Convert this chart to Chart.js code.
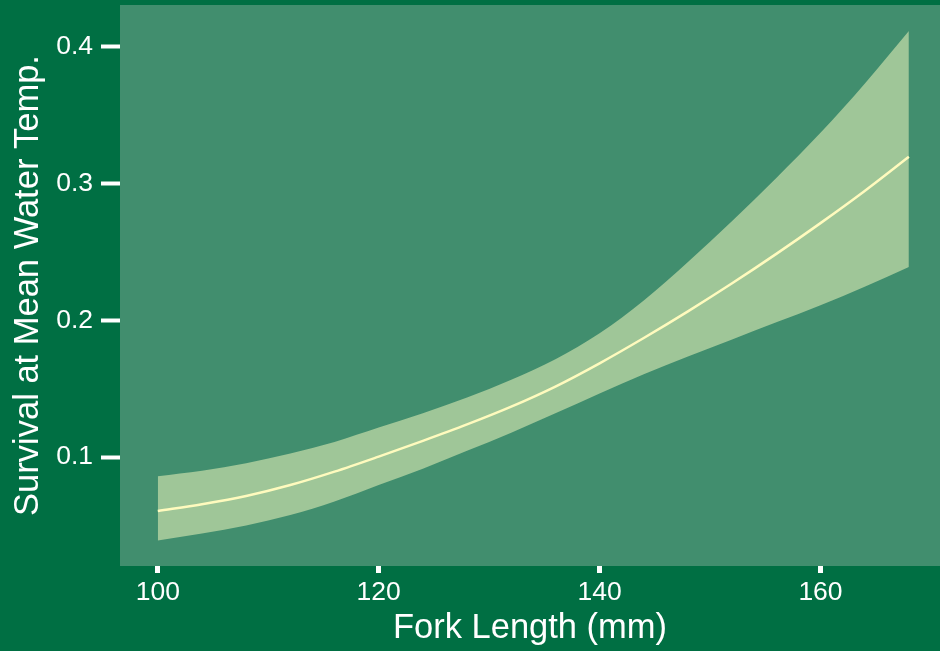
<!DOCTYPE html>
<html>
<head>
<meta charset="utf-8">
<script src="https://cdn.jsdelivr.net/npm/chart.js@4.4.1/dist/chart.umd.min.js"></script>
<style>
  html, body { margin: 0; padding: 0; background: #006f43; }
  canvas { display: block; }
</style>
</head>
<body>
<canvas id="chart" width="940" height="651"></canvas>
<script>
// Fork length (mm) at which the fitted survival curve is evaluated
const forkLength = [100, 104, 108, 112, 116, 120, 124, 128, 132, 136, 140, 144, 148, 152, 156, 160, 164, 168];
// Predicted survival at mean water temperature
const survivalFit = [0.0605, 0.0655, 0.0715, 0.0795, 0.0893, 0.1003, 0.1118, 0.1238, 0.1368, 0.1515, 0.1685, 0.1870, 0.2065, 0.2270, 0.2485, 0.2710, 0.2945, 0.3195];
// Upper and lower confidence limits
const survivalUpper = [0.0860, 0.0900, 0.0955, 0.1025, 0.1110, 0.1215, 0.1320, 0.1435, 0.1565, 0.1715, 0.1905, 0.2145, 0.2425, 0.2725, 0.3040, 0.3370, 0.3730, 0.4115];
const survivalLower = [0.0390, 0.0440, 0.0500, 0.0575, 0.0675, 0.0795, 0.0915, 0.1045, 0.1178, 0.1320, 0.1465, 0.1605, 0.1735, 0.1860, 0.1985, 0.2110, 0.2245, 0.2390];
// Axis ticks
const xTickValues = [100, 120, 140, 160];
const xTickLabels = ['100', '120', '140', '160'];
const yTickValues = [0.1, 0.2, 0.3, 0.4];
const yTickLabels = ['0.1', '0.2', '0.3', '0.4'];

const FONT = '"Liberation Sans", Arial, Helvetica, sans-serif';
const PAGE_BG = '#006f43';
const PANEL_BG = '#418e6e';
const RIBBON = '#9fc698';
const LINE = '#fffbbe';

const toPoints = ys => forkLength.map((x, i) => ({ x: x, y: ys[i] }));

// Fills the page and the plotting panel before anything else is drawn
const panelBackground = {
  id: 'panelBackground',
  beforeDraw(chart) {
    const { ctx, chartArea: a } = chart;
    ctx.save();
    ctx.fillStyle = PAGE_BG;
    ctx.fillRect(0, 0, chart.width, chart.height);
    ctx.fillStyle = PANEL_BG;
    ctx.fillRect(a.left, a.top, a.right - a.left, a.bottom - a.top);
    ctx.restore();
  }
};

// Fixed axis band sizes; label overhang is not reserved around the panel
const fixBand = (size, horizontal) => s => {
  if (horizontal) s.height = size; else s.width = size;
  s.paddingTop = 0; s.paddingBottom = 0; s.paddingLeft = 0; s.paddingRight = 0;
};

new Chart(document.getElementById('chart'), {
  type: 'line',
  data: {
    datasets: [
      {
        label: 'Survival',
        data: toPoints(survivalFit),
        borderColor: LINE,
        borderWidth: 2.5,
        pointRadius: 0,
        fill: false,
        cubicInterpolationMode: 'monotone'
      },
      {
        label: 'Upper',
        data: toPoints(survivalUpper),
        borderWidth: 0,
        borderColor: 'rgba(0,0,0,0)',
        backgroundColor: RIBBON,
        pointRadius: 0,
        fill: '+1',
        cubicInterpolationMode: 'monotone'
      },
      {
        label: 'Lower',
        data: toPoints(survivalLower),
        borderWidth: 0,
        borderColor: 'rgba(0,0,0,0)',
        pointRadius: 0,
        fill: false,
        cubicInterpolationMode: 'monotone'
      }
    ]
  },
  options: {
    responsive: false,
    animation: false,
    devicePixelRatio: 1,
    layout: { padding: { top: 5, right: 0, bottom: 0, left: 0 } },
    plugins: {
      legend: { display: false },
      tooltip: { enabled: false }
    },
    scales: {
      x: {
        type: 'linear',
        min: 96.58,
        max: 170.82,
        afterBuildTicks: s => { s.ticks = xTickValues.map(v => ({ value: v })); },
        afterFit: fixBand(85, true),
        border: { display: false },
        grid: {
          drawOnChartArea: false,
          drawTicks: true,
          tickLength: 7,
          tickWidth: 5,
          tickColor: '#ffffff'
        },
        ticks: {
          color: '#ffffff',
          font: { family: FONT, size: 26.5 },
          padding: 4,
          maxRotation: 0,
          autoSkip: false,
          callback: v => xTickLabels[xTickValues.indexOf(v)]
        },
        title: {
          display: true,
          text: 'Fork Length (mm)',
          color: '#ffffff',
          font: { family: FONT, size: 34.5 },
          padding: { top: 0, bottom: 2 }
        }
      },
      y: {
        type: 'linear',
        min: 0.0203,
        max: 0.4305,
        afterBuildTicks: s => { s.ticks = yTickValues.map(v => ({ value: v })); },
        afterFit: fixBand(120, false),
        border: { display: false },
        grid: {
          drawOnChartArea: false,
          drawTicks: true,
          tickLength: 19,
          tickWidth: 4,
          tickColor: '#ffffff'
        },
        ticks: {
          color: '#ffffff',
          font: { family: FONT, size: 26.5 },
          padding: 8,
          autoSkip: false,
          callback: v => yTickLabels[yTickValues.indexOf(v)]
        },
        title: {
          display: true,
          text: 'Survival at Mean Water Temp.',
          color: '#ffffff',
          font: { family: FONT, size: 34.5 },
          padding: { top: 8, bottom: 0 }
        }
      }
    }
  },
  plugins: [panelBackground]
});
</script>
</body>
</html>
